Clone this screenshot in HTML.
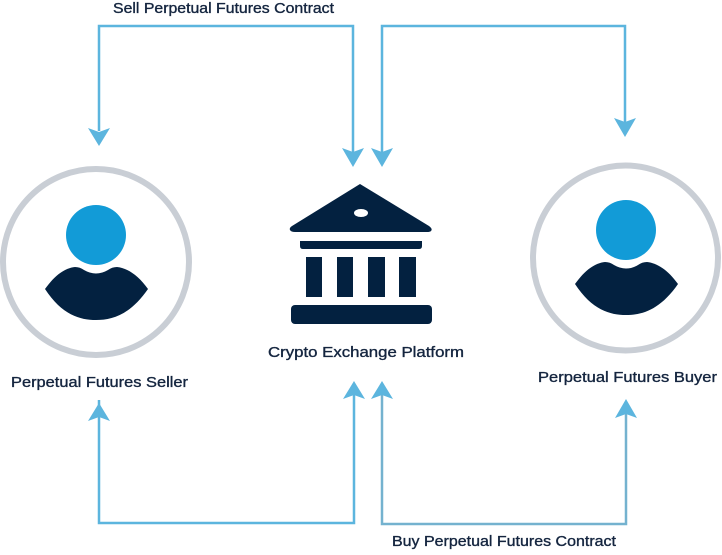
<!DOCTYPE html>
<html>
<head>
<meta charset="utf-8">
<style>
html,body{margin:0;padding:0;background:#fff;}
svg{display:block;}
text{font-family:"Liberation Sans",sans-serif;font-size:14.5px;fill:#14253f;stroke:#14253f;stroke-width:0.35px;}
</style>
</head>
<body>
<svg width="722" height="555" viewBox="0 0 722 555" xmlns="http://www.w3.org/2000/svg">
  <defs>
    <g id="person">
      <circle cx="96" cy="235" r="30" fill="#129bd7"/>
      <path d="M45,289 C55,275 65,268 75,267 Q80,267 84,270 Q96,277 108,270 Q112,267 117,267 C127,268 138,275 148,289 C130,315 112,320 96,320 C80,320 62,315 45,289 Z" fill="#032140"/>
    </g>
  </defs>

  <!-- connectors -->
  <g fill="none" stroke="#5cb5de" stroke-width="2.5">
    <polyline points="99,131 99,26 353,26 353,152"/>
    <polyline points="382,152 382,26 625,26 625,122"/>
    <polyline points="99,400 99,523 354,523 354,384"/>
    <polyline points="382,384 382,524 626,524 626,402" stroke="#74b2cf"/>
  </g>
  <g fill="#5cb5de">
    <!-- down arrows -->
    <path d="M88,128 L99,132 L110,128 L99,146 Z"/>
    <path d="M342,148 L353,152 L364,148 L353,167 Z"/>
    <path d="M371,148 L382,152 L393,148 L382,167 Z"/>
    <path d="M614,118 L625,122 L636,118 L625,137 Z"/>
    <!-- up arrows -->
    <path d="M88,421 L99,417 L110,421 L99,403 Z"/>
    <path d="M343,399 L354,395 L365,399 L354,381 Z"/>
    <path d="M371,399 L382,395 L393,399 L382,381 Z"/>
    <path d="M615,418 L626,414 L637,418 L626,399 Z"/>
  </g>

  <!-- seller -->
  <circle cx="96" cy="262" r="93" fill="none" stroke="#c9ced5" stroke-width="6"/>
  <use href="#person"/>

  <!-- buyer -->
  <circle cx="625.5" cy="258" r="92.5" fill="none" stroke="#c9ced5" stroke-width="6"/>
  <use href="#person" transform="translate(530,-5)"/>

  <!-- bank -->
  <g fill="#032140">
    <path d="M360,184 L429,226 Q433,229 431,231 Q430,232 427,232 L295,232 Q291,232 290,230 Q289,228 292,226 Z"/>
    <path d="M300,241 L422,241 L422,246 Q422,249 419,249 L303,249 Q300,249 300,246 Z"/>
    <rect x="306" y="257" width="16" height="40"/>
    <rect x="337" y="257" width="16" height="40"/>
    <rect x="368" y="257" width="17" height="40"/>
    <rect x="399" y="257" width="17" height="40"/>
    <rect x="291" y="305" width="141" height="19" rx="4"/>
  </g>
  <ellipse cx="361" cy="213" rx="7" ry="4" fill="#fff"/>

  <!-- labels -->
  <text x="113" y="13" textLength="221" lengthAdjust="spacingAndGlyphs">Sell Perpetual Futures Contract</text>
  <text x="392" y="546" textLength="224" lengthAdjust="spacingAndGlyphs">Buy Perpetual Futures Contract</text>
  <text x="11" y="387" textLength="177" lengthAdjust="spacingAndGlyphs">Perpetual Futures Seller</text>
  <text x="538" y="382" textLength="179" lengthAdjust="spacingAndGlyphs">Perpetual Futures Buyer</text>
  <text x="268" y="357" textLength="196" lengthAdjust="spacingAndGlyphs">Crypto Exchange Platform</text>
</svg>
</body>
</html>
